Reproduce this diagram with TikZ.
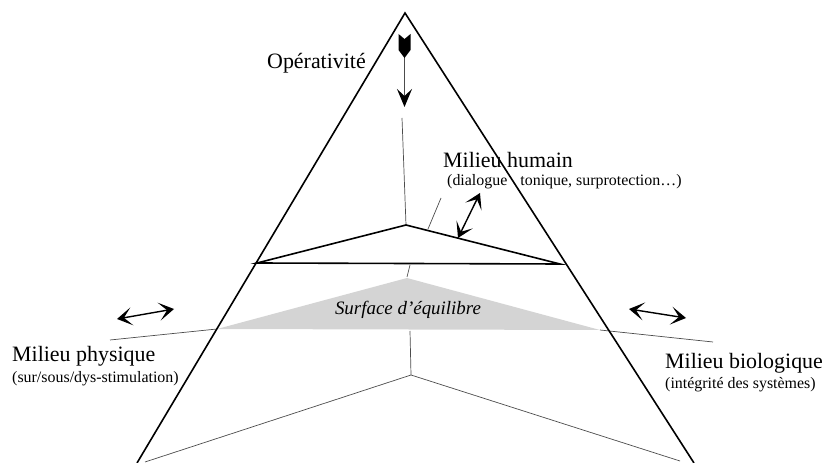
\documentclass[tikz,border=0pt]{standalone}
\usepackage{fontspec}
\setmainfont{Liberation Serif}
\usetikzlibrary{arrows.meta}
\begin{document}
\begin{tikzpicture}[x=1bp,y=-1bp,
  thickline/.style={line width=1.6bp, line join=miter},
  thinline/.style={line width=0.7bp, draw=black!70},
  lbl/.style={inner sep=0, anchor=west, font=\fontsize{22}{24}\selectfont},
  sublbl/.style={inner sep=0, anchor=west, font=\fontsize{16}{18}\selectfont},
  tip/.tip={Stealth[length=15bp,width=18bp,inset=8bp]},
  dbl/.style={line width=1.4bp, tip-tip}]
\useasboundingbox (0,0) rectangle (823,463);
% key points
\coordinate (apex) at (405,13);
\coordinate (bl) at (137,463);
\coordinate (br) at (694,463);
\coordinate (sl) at (217,329);
\coordinate (sr) at (600,330);
\coordinate (st) at (407,278);
\coordinate (hl) at (257,263);
\coordinate (hr) at (560,264);
\coordinate (ht) at (406,225);
\coordinate (bc) at (411,375);
\coordinate (bcl) at (145,462);
\coordinate (bcr) at (680,461);
% shaded surface
\fill[black!17] (sl) -- (st) -- (sr) -- cycle;
% thin lines
\coordinate (pl) at (110,340);
\coordinate (pr) at (713,342);
\draw[thinline] (pl) -- (sl);
\draw[thinline] (sr) -- (pr);
\coordinate (vt) at (402,118);
\draw[thinline] (vt) -- (ht);
\coordinate (sa) at (410,265);
\coordinate (sb) at (407,277);
\draw[thinline] (sa) -- (sb);
\coordinate (ta) at (428,229);
\coordinate (tb) at (441,198);
\draw[thinline] (ta) -- (tb);
\coordinate (vb) at (410,331);
\draw[thinline] (vb) -- (bc);
\draw[thinline] (bcl) -- (bc) -- (bcr);
% upper triangle
\draw[thickline] (hl) -- (ht) -- (hr) -- cycle;
% main triangle
\draw[thickline] (bl) -- (apex) -- (br);
% operativite arrow
\coordinate (oa) at (404.5,56);
\coordinate (ob) at (404.5,107);
\draw[line width=1.3bp, black!70, -{Stealth[length=18bp,width=15bp,inset=7bp,black]}] (oa) -- (ob);
\fill (398.5,34) -- (404.5,39) -- (410.5,34) -- (410.5,50) -- (404.5,58) -- (398.5,50) -- cycle;
% double arrows
\coordinate (ha) at (480,193);
\coordinate (hb) at (458,238);
\draw[dbl] (ha) -- (hb);
\coordinate (la) at (117,319);
\coordinate (lb) at (174,309);
\draw[dbl] (la) -- (lb);
\coordinate (ra) at (629,309);
\coordinate (rb) at (686,318);
\draw[dbl] (ra) -- (rb);
% labels
\node[lbl] (op) at (267,63) {Opérativité};
\node[lbl] (mh) at (443,160) {Milieu humain};
\node[sublbl] (mhs) at (447,182) {(dialogue\hspace{13bp}tonique, surprotection…)};
\node[lbl] (mp) at (12,356) {Milieu physique};
\node[sublbl] (mps) at (12,379) {(sur/sous/dys-stimulation)};
\node[lbl] (mb) at (665,363) {Milieu biologique};
\node[sublbl] (mbs) at (665,385) {(intégrité des systèmes)};
\node[inner sep=0, font=\fontsize{19}{22}\selectfont\itshape] (se) at (408,310) {Surface d’équilibre};
\end{tikzpicture}
\end{document}
